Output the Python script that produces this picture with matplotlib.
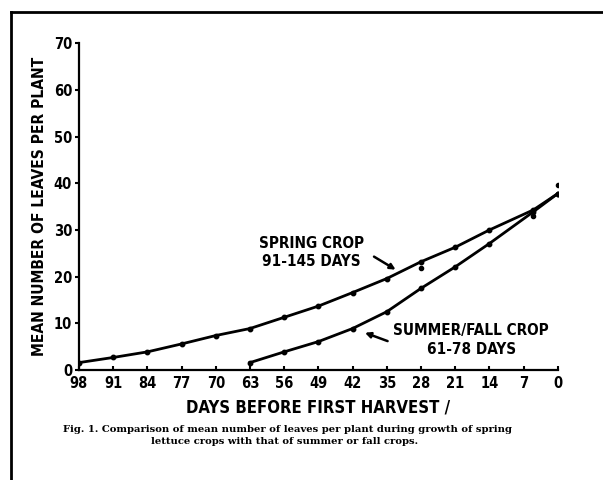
import matplotlib
matplotlib.use("Agg")
import matplotlib.pyplot as plt
from matplotlib.lines import Line2D

# values
spring_days = [98, 91, 84, 77, 70, 63, 56, 49, 42, 35, 28, 21, 14, 5, 0]
spring_leaves = [1.6, 2.7, 3.9, 5.6, 7.4, 8.9, 11.3, 13.7, 16.6, 19.6, 23.2, 26.3, 30.0, 34.3, 37.8]
summer_days = [63, 56, 49, 42, 35, 28, 21, 14, 5, 0]
summer_leaves = [1.6, 3.9, 6.1, 8.9, 12.5, 17.5, 22.1, 27.1, 33.9, 37.8]
stray_days = [28, 5, 0]
stray_leaves = [21.8, 33.0, 39.6]

x_ticks = [98, 91, 84, 77, 70, 63, 56, 49, 42, 35, 28, 21, 14, 7, 0]
y_ticks = [0, 10, 20, 30, 40, 50, 60, 70]

lab = dict(family="DejaVu Sans", weight="bold", stretch="condensed")

fig = plt.figure(figsize=(6.03, 4.80), dpi=100)
ax = fig.add_axes([0.131, 0.229, 0.794, 0.681])

ax.plot(spring_days, spring_leaves, color="black", lw=2.0, marker="o", ms=3.2)
ax.plot(summer_days, summer_leaves, color="black", lw=2.0, marker="o", ms=3.2)
ax.plot(stray_days, stray_leaves, ls="none", color="black", marker="o", ms=3)

ax.set_xlim(98, 0)
ax.set_ylim(0, 70)
ax.set_xticks(x_ticks)
ax.set_yticks(y_ticks)
ax.set_xticklabels([str(v) for v in x_ticks], fontsize=10.5, **lab)
ax.set_yticklabels([str(v) for v in y_ticks], fontsize=10.5, **lab)
ax.tick_params(axis="x", direction="in", length=3, width=1.5, pad=4)
ax.tick_params(axis="y", direction="out", length=3, width=1.5, pad=2)

for s in ["top", "right"]:
    ax.spines[s].set_visible(False)
for s in ["left", "bottom"]:
    ax.spines[s].set_linewidth(1.6)

ax.set_ylabel("MEAN NUMBER OF LEAVES PER PLANT", fontsize=11.2, labelpad=5, **lab)
ax.set_xlabel("DAYS BEFORE FIRST HARVEST /", fontsize=12, labelpad=6, **lab)

ax.text(50.5, 25.2, "SPRING CROP\n91-145 DAYS", ha="center", va="center",
        fontsize=11, linespacing=1.3, **lab)
ax.text(17.7, 6.4, "SUMMER/FALL CROP\n61-78 DAYS", ha="center", va="center",
        fontsize=11, linespacing=1.3, **lab)

ax.annotate("", xy=(32.7, 21.2), xytext=(38.1, 24.6),
            arrowprops=dict(arrowstyle="-|>", color="black", lw=1.8,
                            mutation_scale=8))
ax.annotate("", xy=(40.0, 8.2), xytext=(34.3, 6.0),
            arrowprops=dict(arrowstyle="-|>", color="black", lw=1.8,
                            mutation_scale=8))

fig.text(0.477, 0.106, "Fig. 1. Comparison of mean number of leaves per plant during growth of spring",
         ha="center", va="center", fontsize=7.2, family="DejaVu Serif", weight="bold")
fig.text(0.472, 0.080, "lettuce crops with that of summer or fall crops.",
         ha="center", va="center", fontsize=7.2, family="DejaVu Serif", weight="bold")

# page frame of the scan
fig.add_artist(Line2D([0.018, 1.0], [0.975, 0.975], color="black", lw=2, transform=fig.transFigure))
fig.add_artist(Line2D([0.018, 0.018], [0.0, 0.975], color="black", lw=2, transform=fig.transFigure))

fig.savefig("out.png", dpi=100)
